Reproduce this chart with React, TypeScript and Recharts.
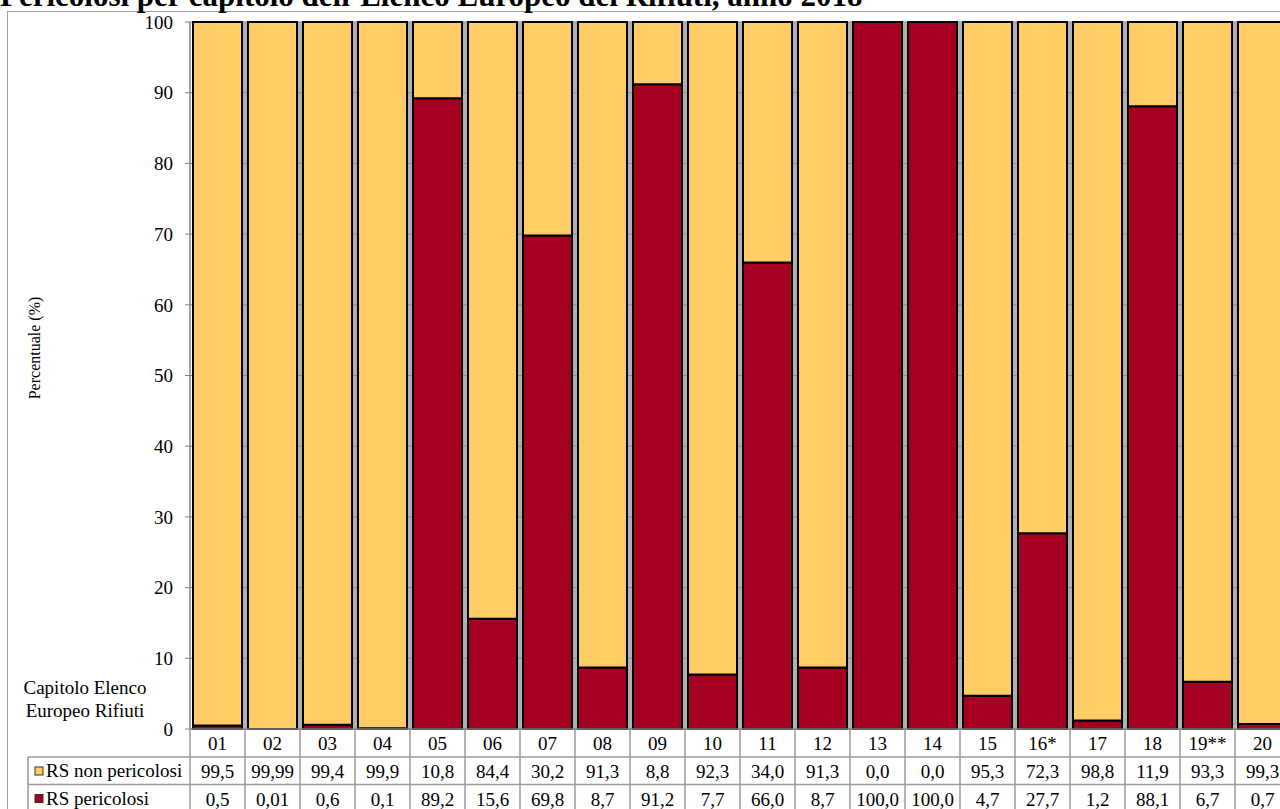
import { BarChart, Bar, XAxis, YAxis, CartesianGrid } from "recharts";

const categories = ["01", "02", "03", "04", "05", "06", "07", "08", "09", "10", "11", "12", "13", "14", "15", "16*", "17", "18", "19**", "20"];
const nonPericolosi = [99.5, 99.99, 99.4, 99.9, 10.8, 84.4, 30.2, 91.3, 8.8, 92.3, 34.0, 91.3, 0.0, 0.0, 95.3, 72.3, 98.8, 11.9, 93.3, 99.3];
const pericolosi = [0.5, 0.01, 0.6, 0.1, 89.2, 15.6, 69.8, 8.7, 91.2, 7.7, 66.0, 8.7, 100.0, 100.0, 4.7, 27.7, 1.2, 88.1, 6.7, 0.7];
const yTicks = [0, 10, 20, 30, 40, 50, 60, 70, 80, 90, 100];

const seriesNames = ["RS non pericolosi", "RS pericolosi"];
const YELLOW = "#FFCC66";
const RED = "#A50021";
const FONT = "'Liberation Serif', 'Times New Roman', serif";
const LINE = "#9a9a9a";
const FS = 19;

const data = categories.map((cat, i) => ({
  cat,
  nonPericolosi: nonPericolosi[i],
  pericolosi: pericolosi[i],
}));

// italian format: comma decimal, keep 2 decimals for tiny values
function fmt(v: number) {
  const s = Math.round(v * 10) === v * 10 ? v.toFixed(1) : v.toFixed(2);
  return s.replace(".", ",");
}

const ROW = 27.5;
const CELL = 55;

function TableTick(props: any) {
  const { x, y, payload } = props;
  const i = payload.index;
  const half = CELL / 2;
  const r1 = y + 28;
  const r2 = r1 + ROW;
  return (
    <g fontFamily={FONT} fontSize={FS} fill="#000">
      <line x1={x + half} x2={x + half} y1={y} y2={y + 90} stroke={LINE} strokeWidth={1.5} />
      {i === 0 && (
        <g>
          <line x1={x - half} x2={x - half} y1={y} y2={y + 90} stroke={LINE} strokeWidth={1.5} />
          <line x1={28} x2={1300} y1={r1} y2={r1} stroke={LINE} strokeWidth={1.5} />
          <line x1={28} x2={1300} y1={r2} y2={r2} stroke={LINE} strokeWidth={1.5} />
          <line x1={28} x2={28} y1={r1} y2={y + 90} stroke={LINE} strokeWidth={1.5} />
          <rect x={35} y={r1 + 10} width={8} height={8} fill={YELLOW} stroke="#333" strokeWidth={1} />
          <text x={46} y={r1 + 20} textAnchor="start">{seriesNames[0]}</text>
          <rect x={35} y={r2 + 10} width={8} height={8} fill={RED} stroke="#333" strokeWidth={1} />
          <text x={46} y={r2 + 20} textAnchor="start">{seriesNames[1]}</text>
        </g>
      )}
      <text x={x} y={y + 21} textAnchor="middle">{payload.value}</text>
      <text x={x} y={r1 + 21} textAnchor="middle">{fmt(nonPericolosi[i])}</text>
      <text x={x} y={r2 + 21} textAnchor="middle">{fmt(pericolosi[i])}</text>
    </g>
  );
}

export default function App() {
  return (
    <div style={{ position: "absolute", left: 0, top: 0, width: 1280, height: 809, overflow: "hidden", background: "#fff" }}>
      <div style={{ position: "absolute", left: 7, top: 11, width: 1400, height: 900, border: "1.5px solid #a0a0a0" }} />
      <div
        style={{
          position: "absolute",
          left: 0,
          top: -19,
          fontFamily: FONT,
          fontWeight: "bold",
          fontSize: 31,
          lineHeight: "30px",
          whiteSpace: "nowrap",
        }}
      >
        Pericolosi per capitolo dell’Elenco Europeo dei Rifiuti, anno 2018
      </div>
      <div style={{ position: "absolute", left: 0, top: 0 }}>
        <BarChart
          width={1300}
          height={809}
          data={data}
          margin={{ top: 22, right: 10, bottom: 0, left: 0 }}
          barCategoryGap={3}
        >
          <CartesianGrid
            stroke="#b0b0b0"
            horizontal={false}
            strokeWidth={4}
            verticalCoordinatesGenerator={({ offset }: any) =>
              categories.map((_, i) => offset.left + ((i + 1) * offset.width) / categories.length)
            }
          />
          <CartesianGrid stroke="#8c8c8c" vertical={false} />
          <XAxis
            dataKey="cat"
            interval={0}
            height={80}
            tickSize={0}
            tickMargin={0}
            tickLine={false}
            axisLine={{ stroke: "#808080", strokeWidth: 1.5 }}
            tick={<TableTick />}
          />
          <YAxis
            width={190}
            domain={[0, 100]}
            ticks={yTicks}
            interval={0}
            tickSize={5}
            tickMargin={12}
            axisLine={{ stroke: "#808080", strokeWidth: 1.5 }}
            tickLine={{ stroke: "#808080" }}
            tick={{ fontFamily: FONT, fontSize: FS, fill: "#000" }}
            label={{
              content: () => (
                <g>
                  <text
                    x={34}
                    y={348}
                    transform="rotate(-90 34 348)"
                    textAnchor="middle"
                    dominantBaseline="central"
                    fontFamily={FONT}
                    fontSize={16}
                    fill="#000"
                  >
                    Percentuale (%)
                  </text>
                  <text x={85} y={694} textAnchor="middle" fontFamily={FONT} fontSize={FS} fill="#000">
                    Capitolo Elenco
                  </text>
                  <text x={85} y={717} textAnchor="middle" fontFamily={FONT} fontSize={FS} fill="#000">
                    Europeo Rifiuti
                  </text>
                </g>
              ),
            }}
          />
          <Bar dataKey="pericolosi" stackId="a" fill={RED} stroke="#000" strokeWidth={2} isAnimationActive={false} />
          <Bar dataKey="nonPericolosi" stackId="a" fill={YELLOW} stroke="#000" strokeWidth={2} isAnimationActive={false} />
        </BarChart>
      </div>
    </div>
  );
}
